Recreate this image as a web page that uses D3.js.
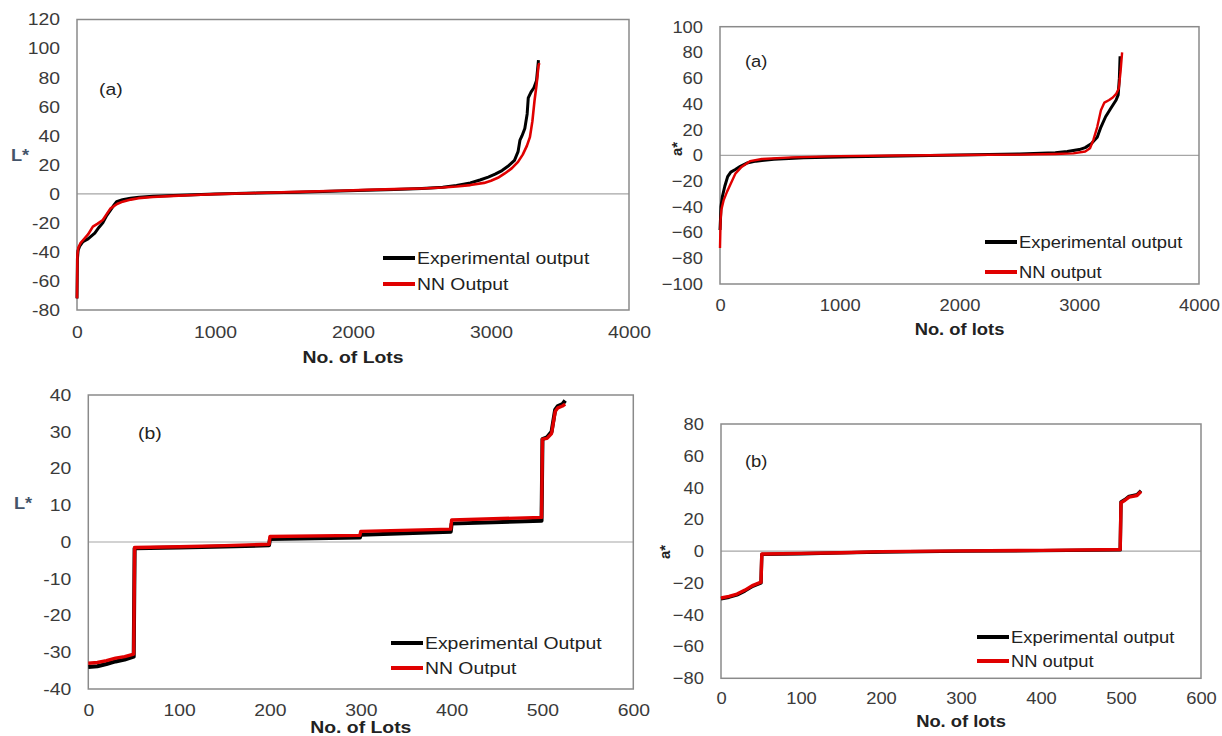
<!DOCTYPE html>
<html>
<head>
<meta charset="utf-8">
<script src="https://cdn.jsdelivr.net/npm/d3@7"></script>
<style>
  body { margin: 0; background: #fff; }
  svg text { font-family: "Liberation Sans", Arial, sans-serif; }
</style>
</head>
<body>
<div id="chart"></div>
<script>
// ---- data ----
// (a) L*, whole set of lots
var expLaX = [0, 3, 8, 20, 43, 80, 129, 160, 187, 215, 244, 270, 287, 330, 388, 450, 550, 700, 850, 1000, 1300, 1600, 1900, 2100, 2300, 2500, 2650, 2750, 2850, 2920, 2980, 3030, 3080, 3130, 3170, 3196, 3210, 3225, 3245, 3262, 3270, 3290, 3311, 3330, 3344];
var expLaY = [-72, -45, -39, -36, -33, -31, -27, -23, -20, -15, -11, -7.5, -5.4, -4, -3.1, -2.4, -1.7, -1.1, -0.6, -0.2, 0.5, 1.1, 1.9, 2.5, 3.0, 3.7, 4.5, 5.8, 7.5, 9.5, 11.5, 13.5, 16, 19.5, 23, 29, 37, 40, 45, 55, 66, 70, 73, 78, 92];
var nnLaX = [0, 3, 10, 25, 43, 80, 115, 150, 187, 215, 244, 290, 331, 390, 446, 550, 700, 850, 1000, 1300, 1600, 1900, 2100, 2300, 2500, 2650, 2750, 2850, 2950, 3000, 3050, 3100, 3150, 3196, 3230, 3260, 3282, 3300, 3316, 3330, 3344, 3350];
var nnLaY = [-72, -42, -37, -34, -32, -28, -22.6, -20.5, -18, -14, -10, -7, -5.4, -4, -3, -2.2, -1.4, -0.8, -0.2, 0.6, 1.3, 2.1, 2.7, 3.2, 3.7, 4.3, 5.0, 6.0, 7.5, 9, 11, 14, 17.5, 22, 27, 33, 39, 50, 64.6, 75, 88, 90];

// (a) a*, whole set of lots
var expAaX = [0, 4, 8, 20, 40, 64, 90, 128, 170, 225, 300, 450, 700, 1093, 1500, 2000, 2500, 2800, 2900, 3000, 3050, 3100, 3150, 3181, 3220, 3260, 3308, 3325, 3335, 3341];
var expAaY = [-58, -50, -40, -32, -24, -16.5, -13, -11, -8.5, -6, -4.5, -3, -1.8, -1, -0.5, 0.3, 1, 2, 3, 4.5, 6, 9, 14, 22, 30, 36, 43, 47, 60, 77];
var nnAaX = [0, 5, 12, 30, 60, 100, 130, 180, 250, 350, 600, 1000, 1500, 2000, 2500, 2800, 2950, 3050, 3090, 3118, 3150, 3181, 3210, 3250, 3280, 3310, 3330, 3345, 3358];
var nnAaY = [-72, -50, -42, -35, -28, -20, -14, -9, -4.5, -2.8, -1.6, -0.6, -0.1, 0.3, 0.6, 1, 1.5, 3, 5.5, 12, 22, 35, 41, 43, 45, 48, 52, 65, 80];

// (b) L*, test lots
var expLbX = [0, 10, 20, 30, 40, 50, 51, 100, 150, 199, 200, 299, 300, 399, 400, 499, 500, 505, 510, 514, 517, 522, 525];
var expLbY = [-34, -33.8, -33.2, -32.5, -32, -31.2, -1.7, -1.5, -1.2, -0.9, 0.8, 1.2, 2.0, 2.8, 5.0, 5.8, 28, 28.5, 30, 36, 37, 37.5, 38.5];
var nnLbX = [0, 10, 20, 30, 40, 50, 51, 100, 150, 199, 200, 299, 300, 399, 400, 499, 500, 505, 510, 514, 517, 522, 525];
var nnLbY = [-33, -32.8, -32.3, -31.6, -31.2, -30.5, -1.5, -1.3, -1.0, -0.6, 1.5, 1.8, 2.9, 3.5, 6.0, 6.7, 28, 28.2, 29.5, 35.5, 36.5, 37, 37.5];

// (b) a*, test lots
var expAbX = [0, 10, 20, 30, 40, 50, 51, 100, 150, 200, 300, 400, 499, 500, 505, 510, 520, 525];
var expAbY = [-30, -29, -27.5, -25, -22, -20, -2, -1.6, -1.1, -0.5, 0, 0.3, 0.8, 31, 32.5, 34.5, 35.5, 38];
var nnAbX = [0, 10, 20, 30, 40, 50, 51, 100, 150, 200, 300, 400, 499, 500, 505, 510, 520, 525];
var nnAbY = [-29.5, -28.5, -27, -24.5, -21.5, -19.5, -1.8, -1.4, -1, -0.3, 0.2, 0.5, 1, 30.5, 32, 34, 35, 37.5];

// tick labels
var ticksXa = [0, 1000, 2000, 3000, 4000];
var ticksXb = [0, 100, 200, 300, 400, 500, 600];
var ticksLa = [-80, -60, -40, -20, 0, 20, 40, 60, 80, 100, 120];
var ticksAa = [-100, -80, -60, -40, -20, 0, 20, 40, 60, 80, 100];
var ticksLb = [-40, -30, -20, -10, 0, 10, 20, 30, 40];
var ticksAb = [-80, -60, -40, -20, 0, 20, 40, 60, 80];

var RED = '#e00000';
var hyphen = function(d) { return String(d); };   // left plots use a plain hyphen
var minus = d3.format('');                        // right plots use a real minus sign

/* layout of the four excel-style panels */
var panels = [
  { left: 77, right: 629, top: 19.5, bottom: 310, xTicks: ticksXa, yTicks: ticksLa, fmt: hyphen, sx: 1.14,
    xPad: 16, tag: '(a)', tagX: 99, tagY: 89, xTitle: 'No. of Lots', xTitleY: 357,
    yTitle: 'L*', yTitleX: 20, yTitleY: 155, yRot: false,
    legX: 383, legY: 258, legGap: 26, names: ['Experimental output', 'NN Output'], w: [3, 2.6],
    series: [[expLaX, expLaY], [nnLaX, nnLaY]] },
  { left: 720, right: 1199, top: 26.7, bottom: 284, xTicks: ticksXa, yTicks: ticksAa, fmt: minus, sx: 1.08,
    xPad: 15, tag: '(a)', tagX: 745, tagY: 61, xTitle: 'No. of lots', xTitleY: 329,
    yTitle: 'a*', yTitleX: 677, yTitleY: 149, yRot: true,
    legX: 985, legY: 242, legGap: 30, names: ['Experimental output', 'NN output'], w: [3, 2.4],
    series: [[expAaX, expAaY], [nnAaX, nnAaY]] },
  { left: 88.3, right: 633.3, top: 395, bottom: 689, xTicks: ticksXb, yTicks: ticksLb, fmt: hyphen, sx: 1.14,
    xPad: 15, tag: '(b)', tagX: 138, tagY: 433, xTitle: 'No. of Lots', xTitleY: 727,
    yTitle: 'L*', yTitleX: 23, yTitleY: 503, yRot: false,
    legX: 391, legY: 643, legGap: 25, names: ['Experimental Output', 'NN Output'], w: [4, 3.4],
    series: [[expLbX, expLbY], [nnLbX, nnLbY]] },
  { left: 721, right: 1201, top: 424, bottom: 678.3, xTicks: ticksXb, yTicks: ticksAb, fmt: minus, sx: 1.08,
    xPad: 14, tag: '(b)', tagX: 745, tagY: 461, xTitle: 'No. of lots', xTitleY: 721,
    yTitle: 'a*', yTitleX: 665, yTitleY: 552, yRot: true,
    legX: 977, legY: 637, legGap: 24, names: ['Experimental output', 'NN output'], w: [3.4, 3.4],
    series: [[expAbX, expAbY], [nnAbX, nnAbY]] }
];

var svg = d3.select('#chart').append('svg')
  .attr('width', 1222)
  .attr('height', 736)
  .style('background', '#fff');

// text that is a bit wider than the font, like the scanned figure
function putText(g, str, x, y, sx, size, anchor) {
  return g.append('text')
    .attr('transform', 'translate(' + x + ',' + y + ') scale(' + sx + ',1)')
    .attr('dy', '0.35em')
    .attr('text-anchor', anchor || 'start')
    .style('font-size', size + 'px')
    .text(str);
}

function drawPanel(p) {
  var xMax = p.xTicks[p.xTicks.length - 1];
  var x = d3.scaleLinear().domain([0, xMax]).range([p.left, p.right]);
  var y = d3.scaleLinear()
    .domain([p.yTicks[0], p.yTicks[p.yTicks.length - 1]])
    .range([p.bottom, p.top]);

  var g = svg.append('g');

  // zero line
  g.append('line')
    .attr('x1', p.left).attr('x2', p.right)
    .attr('y1', y(0)).attr('y2', y(0))
    .style('stroke', '#a6a6a6')
    .style('stroke-width', 1.2);

  // plot border
  g.append('rect')
    .attr('x', p.left).attr('y', p.top)
    .attr('width', p.right - p.left).attr('height', p.bottom - p.top)
    .style('fill', 'none')
    .style('stroke', '#8a8a8a')
    .style('stroke-width', 1.5);

  var line = d3.line()
    .x(function(d) { return x(d[0]); })
    .y(function(d) { return y(d[1]); });

  var colors = ['#000', RED];
  p.series.forEach(function(s, i) {
    g.append('path')
      .datum(d3.zip(s[0], s[1]))
      .attr('d', line)
      .style('fill', 'none')
      .style('stroke', colors[i])
      .style('stroke-width', p.w[i])
      .style('stroke-linejoin', 'round');
  });

  // y axis, excel style: no tick marks, no domain line
  var ya = g.append('g')
    .attr('transform', 'translate(' + p.left + ',0)')
    .call(d3.axisLeft(y).tickValues(p.yTicks).tickSize(0).tickPadding(17).tickFormat(p.fmt));
  ya.select('.domain').remove();
  ya.selectAll('text')
    .attr('x', -17 / p.sx)
    .attr('transform', 'scale(' + p.sx + ',1)')
    .style('font-size', '17px')
    .style('fill', '#3a3a3a');

  var xa = g.append('g')
    .attr('transform', 'translate(0,' + p.bottom + ')')
    .call(d3.axisBottom(x).tickValues(p.xTicks).tickSize(0).tickPadding(p.xPad).tickFormat(d3.format('d')));
  xa.select('.domain').remove();
  xa.selectAll('text')
    .attr('transform', 'scale(' + p.sx + ',1)')
    .style('font-size', '17px')
    .style('fill', '#3a3a3a');

  // axis titles
  putText(g, p.xTitle, (p.left + p.right) / 2, p.xTitleY, p.sx, 17, 'middle')
    .style('font-weight', 'bold')
    .style('fill', '#222');

  if (p.yRot) {
    g.append('text')
      .attr('transform', 'translate(' + p.yTitleX + ',' + p.yTitleY + ') rotate(-90)')
      .attr('dy', '0.35em')
      .attr('text-anchor', 'middle')
      .style('font-size', '15px')
      .style('font-weight', 'bold')
      .style('fill', '#222')
      .text(p.yTitle);
  } else {
    putText(g, p.yTitle, p.yTitleX, p.yTitleY, p.sx, 16, 'middle')
      .style('font-weight', 'bold')
      .style('fill', '#44546a');
  }

  // panel tag
  putText(g, p.tag, p.tagX, p.tagY, p.sx, 17, 'start').style('fill', '#222');

  // legend
  p.names.forEach(function(name, i) {
    var ly = p.legY + i * p.legGap;
    g.append('line')
      .attr('x1', p.legX).attr('x2', p.legX + 32)
      .attr('y1', ly).attr('y2', ly)
      .style('stroke', colors[i])
      .style('stroke-width', 4);
    putText(g, name, p.legX + 34, ly, p.sx, 17, 'start').style('fill', '#222');
  });
}

panels.forEach(drawPanel);
</script>
</body>
</html>
